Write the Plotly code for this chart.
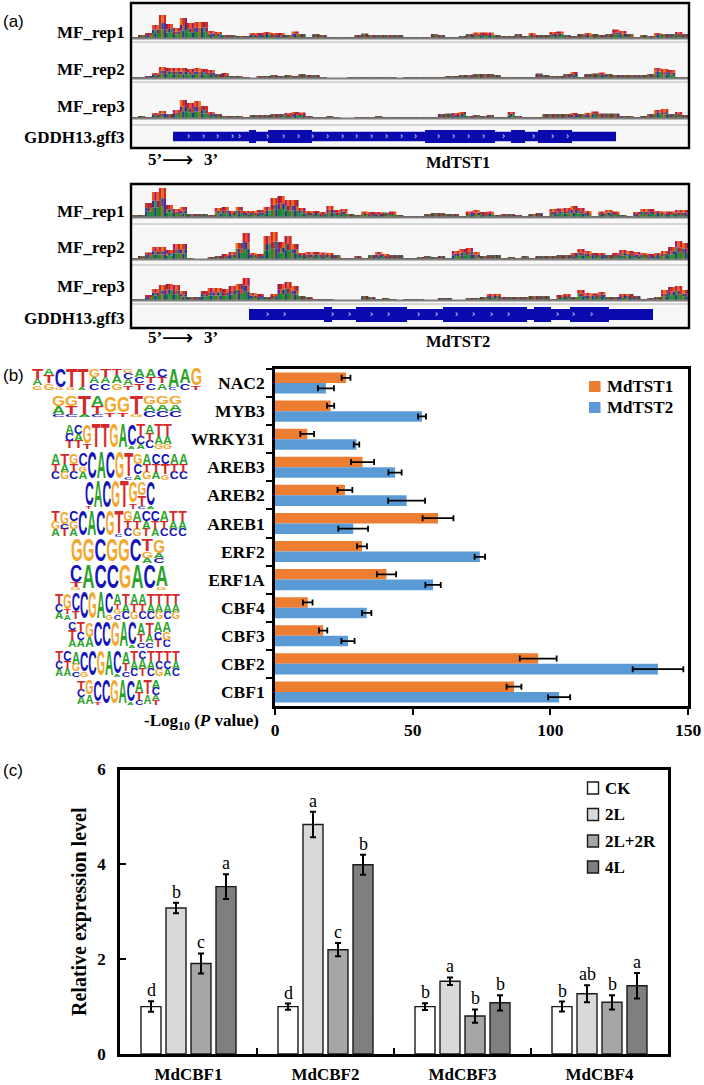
import re
import plotly.graph_objects as go

# ---------- data: panel (a) coverage, 80 bins per track ----------
T1_REP1 = [1,3,5,13,23,14,10,20,15,16,16,7,6,3,3,2,2,5,5,6,5,5,3,6.5,4,1,3.5,3,1,.5,.5,.5,3,4.5,2.5,3,2.5,2.5,2.5,.5,
           .5,.5,1,4,2.5,.5,.5,1.5,4,5.5,5.5,5.5,3,1.5,1.5,3.5,2,5,3,2.5,6,6.5,3,2,3.5,5,3.5,2.5,4,8.5,7,4,.5,2.5,1.5,5,4,4,6,4]
T1_REP2 = [1,.3,2,5,11,10,10,10,9,10,9,8,4,5,2,1.5,.5,0,1.5,2,2.5,2,2.5,2,3.5,3,2.5,.5,0,0,0,.3,.3,.3,.3,.3,.5,.3,0,.2,
           .2,.2,.3,.2,.2,1.2,2,2.5,2.5,3.5,3.5,3.5,3,.5,.6,.6,.5,.3,4.5,3,1.5,2,4,6,.5,3.5,4.5,5.5,3.5,3,3,2.5,3,2.5,4,10,9,8,.5,1]
T1_REP3 = [.3,2,.5,5,7,4,8,18,15,17,12,6,4,1.5,2,2,1,2.5,3,3,3.5,3.5,5,6,5.5,2,.3,.3,1.5,1,0,0,.3,.8,.3,2,1,.5,.3,.3,
           .3,.3,.3,.3,3.5,4.5,5,6,1.5,3,2,3,1,1,6,1.5,.3,.5,.5,3.5,3.5,4,3.5,5,4,5,6.5,4.5,4.5,4.5,2,2,.3,2,4,8,9,4,6,3]
T2_REP1 = [1.5,2,14,25,29,12,8,10,3,3,2.5,2,9,10,6,10,6,6,7,10,19,21,17,17,9,6,6,5,11,7,8,3,2,5.5,5,5,4.5,5.5,2,1,
           .8,.5,2.5,4,3.5,3,3,.5,5.5,7,5,5.5,2,2.5,2.5,2,.5,3,4,1,8,8.5,9,11,9,6,1,5.5,7,5.5,2,1,5,8,8,6,5.5,5.5,7,7]
T2_REP2 = [1,2.5,6.5,12,12,9,15,15,1,0,0,2,3,5,7,16,26,6,5,23,27,17,23,15,6,7,7,6.5,6,4,1,.3,3,.5,4,7,5,4,4,1,
           .3,2,3,2,3,1,8,10,11,7,3,4,4,.3,1.5,.3,3,.5,3,3,3,3.5,3.5,6,10,8,6,6,4,6,9,8,7,6,5,6,8,12,18,16]
T2_REP3 = [.3,1,5,11,15,16,15,9,3,2.5,9,12,12,11,14,16,22,7,6,3,6,16,18,14,3.5,3,1,1,.5,0,0,0,0,3.5,3,.5,2,.3,0,1,
           1,.5,0,0,2,2,0,0,2,2,2.5,6,6,3,3,3,3,3.5,3.5,3.5,.5,5,6,3,10,7,6.5,8,3,3,6,6,3.5,1,1.5,3,10,13,14,10]
TRACK_NAMES = ["MF_rep1", "MF_rep2", "MF_rep3"]
GENE_TRACK = "GDDH13.gff3"
GENE_NAMES = ["MdTST1", "MdTST2"]

GENE1_SPAN = [42, 485]
GENE1_EXONS = [(118,125),(137,181),(294,364),(380,394),(407,441)]
GENE1_MARKS = [57,72,86,101,108,136,152,167,181,196,211,225,240,255,270,284,307,322,337,352,372,402,421,436]
GENE2_SPAN = [118, 522]
GENE2_EXONS = [(193,201),(225,276),(312,396),(403,420),(439,478)]
GENE2_MARKS = [136,153,201,218,240,257,287,305,325,342,360,377,426,442,460]

# ---------- data: panel (b) ----------
TF_NAMES = ["NAC2","MYB3","WRKY31","AREB3","AREB2","AREB1","ERF2","ERF1A","CBF4","CBF3","CBF2","CBF1"]
MDTST1 = [25.8,20.2,11.7,31.8,25.4,59.2,31.6,40.5,11.9,17.5,95.6,86.8]
MDTST1_ERR = [1.6,1.3,2.5,4.2,2.7,5.6,1.8,3.5,1.75,1.5,6.7,2.7]
MDTST2 = [18.5,53.4,29.6,43.6,47.8,28.4,74.4,57.4,33.3,26.5,139.1,103.2]
MDTST2_ERR = [2.9,1.45,1.0,2.4,6.7,5.4,1.9,2.8,1.7,2.4,9.2,4.0]
B_TICKS = [0,50,100,150]

# sequence logos: one string per column, top to bottom, letter + tenths of logo height
LOGOS = [
 ["T5A3G2","A3T4G3","C9G1","T9G1","T9A1","G4A3C3","T4A3C3","T3A4G3","G2C3A3T2","A4C3T3","A4T3C3","C4T3A3","A9C1","A7C3","G8T2"],
 ["G5A4C1","G5T4C1","T9A1","A5T4C1","G8T2","G8T2","T9G1","G4A3C3","G4A3C3","G4A3C3"],
 ["A4C3T3","C4A3T3","G8T2","T10","T10","G10","A10","C9A1","T5C3A2","A4T3C3","T5A3G2","T5A3G2"],
 ["A4T3C3","T4A3G3","G4T3C3","C5G2A3","C10","A10","C10","G10","T9C1","G4C4A2","A4T3G3","C4T3A3","C4T4G2","A4T3C3","A4T3C3"],
 ["C9T1","A10","C10","G10","T10","G8T2","G5T4C1","C9A1"],
 ["T4G3A3","G5C2T3","C4G3A3","C10","A10","C10","G10","T9C1","G4T3C3","A4T3G3","C4A3T3","C4T3A3","A4T3C3","T4A3C3","T4A3C3"],
 ["G10","G10","C10","G10","G10","C10","T5G3A2","G6A2C2"],
 ["C7T2G1","A10","C10","C10","G10","A10","C10","A9G1"],
 ["T4C3A3","G6T2A2","C7T3","C10","G10","A10","C8G2","A4T2G2C2","T4A3C3","A4T3G3","A4T3C3","T4A3C3","T4A3G3","T4A3C3","T4A3G3"],
 ["C3T4A3","T4C3A3","G6A4","C10","C10","G10","A10","C9A1","A5T3C2","T5A3C2","A4C3T3","A4G3C3"],
 ["T4C3A3","C4T3A3","A5G3C2","C8G2","C10","G10","A10","C9A1","A5T3C2","T4A3C3","C3A4T3","T4A3C3","T4C3G3","T4C3A3","T4A3C3"],
 ["T4C3A3","G6A4","C9T1","C10","G10","A10","C9A1","A5T3C2","T6A4","A3C3A2T2"],
]

# ---------- data: panel (c) ----------
CBF_GENES = ["MdCBF1","MdCBF2","MdCBF3","MdCBF4"]
TREATMENTS = ["CK","2L","2L+2R","4L"]
EXPR = [[1,1,1,1],[3.08,4.84,1.535,1.27],[1.91,2.2,.80,1.09],[3.53,3.99,1.08,1.44]]
EXPR_ERR = [[.11,.065,.07,.105],[.11,.27,.08,.18],[.21,.14,.14,.15],[.26,.21,.16,.27]]
EXPR_SIG = [["d","d","b","b"],["b","a","a","ab"],["c","c","b","b"],["a","b","b","a"]]
C_TICKS = [0,2,4,6]

# ---------- style and layout constants ----------
W, H = 704, 1085
SERIF = "Liberation Serif"
def px(x): return x / W
def py(y): return 1 - y / H
def xdom(a, b): return [px(a), px(b)]
def ydom(top, bottom): return [py(bottom), py(top)]

TOPC = ["#D7191C","#F0501A","#A81A6A","#E8601C","#CC2233","#F07018","#D03018","#8A2252"]
MIDC = ["#6A1B9A","#B5651D","#2E3192","#2E8B57","#8A2252","#C0392B","#1F5F8B"]
LOWC = ["#1F8A3B","#2E8B22","#1F3A93","#228B22","#3C7A2E","#7A7A20","#27408B","#1B7F3A"]
DARKC = ["#8B4A2B","#4A4A6A","#6B6B2B","#7A2E3A","#2F6B4A","#A8552B","#5A3A6A"]
LOGO_COL = {"A":"#2BA32B","C":"#1414B8","G":"#F2A72E","T":"#D42A2A"}
GREYS = ["#FFFFFF","#D9D9D9","#A6A6A6","#7F7F7F"]

fig = go.Figure()
layout = dict(width=W, height=H, margin=dict(l=0,r=0,t=0,b=0,pad=0,autoexpand=False), autosize=False,
              paper_bgcolor="white", plot_bgcolor="rgba(0,0,0,0)", barmode="overlay", showlegend=False,
              font=dict(family=SERIF, color="black"))
shapes, notes = [], []

def note(x, y, text, size=15.5, anchor="right", family=SERIF, bold=True, color="black"):
    notes.append(dict(xref="paper", yref="paper", x=px(x), y=py(y), text=text, showarrow=False,
                      xanchor=anchor, yanchor="middle", borderpad=0,
                      font=dict(family=family, size=size, color=color, weight=700 if bold else 400)))

# ---------- panel (a) ----------
axis_n = [2]
def new_axes(xd, yd, xr, yr, **yopts):
    n = axis_n[0]; axis_n[0] += 1
    layout[f"xaxis{n}"] = dict(domain=xd, range=xr, anchor=f"y{n}", showgrid=False, zeroline=False,
                               showticklabels=False, ticks="", showline=False)
    layout[f"yaxis{n}"] = dict(domain=yd, range=yr, anchor=f"x{n}", showgrid=False, zeroline=False,
                               showticklabels=False, ticks="", showline=False, **yopts)
    return f"x{n}", f"y{n}"

BOX_L, BOX_R = 131, 689
BOXES = [
    dict(top=3, bot=148, tracks=[(T1_REP1,5,38,42,32),(T1_REP2,43,78,82,70),(T1_REP3,84,118,125,106)],
         gene=(130,143,137), span=GENE1_SPAN, exons=GENE1_EXONS, marks=GENE1_MARKS, name=0, arrow=159, namey=163),
    dict(top=184, bot=328, tracks=[(T2_REP1,186,217,224,211),(T2_REP2,226,259,265,248),(T2_REP3,267,300,304,286)],
         gene=(307,322,318), span=GENE2_SPAN, exons=GENE2_EXONS, marks=GENE2_MARKS, name=1, arrow=338, namey=341),
]
for box in BOXES:
    shapes.append(dict(type="rect", xref="paper", yref="paper", x0=px(BOX_L), x1=px(BOX_R),
                       y0=py(box["top"]), y1=py(box["bot"]), fillcolor="#F7F7F7", line=dict(width=0), layer="below"))
    for (vals, top, base, sep, laby), name in zip(box["tracks"], TRACK_NAMES):
        xa, ya = new_axes(xdom(BOX_L, BOX_R), ydom(top, base), [-.5, 79.5], [0, base - top])
        xs = list(range(len(vals)))
        low = [v * .38 for v in vals]
        mid = [v * .27 for v in vals]
        upp = [v * .35 for v in vals]
        low_base = [0] * len(vals)
        mid_base = low
        upp_base = [a + b for a, b in zip(low, mid)]
        for part, bs, pal in ((low, low_base, LOWC), (mid, mid_base, MIDC), (upp, upp_base, TOPC)):
            for k, off in enumerate((-.5, -1/6, 1/6)):
                cols = [(DARKC if vals[i] < 5 else pal)[(3 * i + k) % len(pal if vals[i] >= 5 else DARKC)] for i in xs]
                fig.add_trace(go.Bar(x=xs, y=part, base=bs, width=.36, offset=off, xaxis=xa, yaxis=ya,
                                     marker=dict(color=cols, line=dict(width=0)),
                                     showlegend=False, hoverinfo="skip"))
        shapes.append(dict(type="line", xref="paper", yref="paper", x0=px(BOX_L), x1=px(BOX_R),
                           y0=py(base+.5), y1=py(base+.5), line=dict(color="#808080", width=1.8)))
        shapes.append(dict(type="line", xref="paper", yref="paper", x0=px(BOX_L), x1=px(BOX_R),
                           y0=py(sep), y1=py(sep), line=dict(color="#B8B8B8", width=1.2)))
        note(126, laby, name, size=17)
    gtop, gbot, glab = box["gene"]
    xa, ya = new_axes(xdom(BOX_L, BOX_R), ydom(gtop, gbot), [0, BOX_R - BOX_L], [-.5, .5])
    blue = "#0A0AAE"
    sp0, sp1 = box["span"]
    fig.add_trace(go.Bar(x=[sp1 - sp0], y=[0], base=[sp0], orientation="h", width=.72, offset=-.36,
                         xaxis=xa, yaxis=ya, marker=dict(color=blue, line=dict(width=0)),
                         showlegend=False, hoverinfo="skip"))
    fig.add_trace(go.Bar(x=[b - a for a, b in box["exons"]], y=[0]*len(box["exons"]), base=[a for a, b in box["exons"]],
                         orientation="h", width=1, offset=-.5, xaxis=xa, yaxis=ya,
                         marker=dict(color=blue, line=dict(width=0)), showlegend=False, hoverinfo="skip"))
    for m in box["marks"]:
        notes.append(dict(xref=xa, yref=ya, x=m, y=0, text="›", showarrow=False, yshift=1,
                          font=dict(family="Liberation Sans", size=9, color="white")))
    note(126, glab, GENE_TRACK, size=17)
    shapes.append(dict(type="rect", xref="paper", yref="paper", x0=px(BOX_L), x1=px(BOX_R),
                       y0=py(box["top"]), y1=py(box["bot"]), line=dict(color="black", width=2.4)))
    note(147, box["arrow"], "5’", size=17, anchor="left")
    note(203, box["arrow"], "3’", size=17, anchor="left")
    note(178, box["arrow"], "⟶", size=22, anchor="center", family="DejaVu Sans", bold=False)
    note(458, box["namey"], GENE_NAMES[box["name"]], size=16.5, anchor="center")

# ---------- panel (b) logos ----------
LOGO_BOX = [(32,202,369,390),(52,182,397,417),(65,172,425,449),(51,188,454,480),(85,155,482,509),(51,187,512,537),
            (71,165,540,563),(70,168,566,590),(55,180,594,620),(68,171,623,648),(55,180,652,677),(77,160,681,705)]
lx, ly, lt, ls, lc, lw = [], [], [], [], [], []
for cols, (x0, x1, yt, yb) in zip(LOGOS, LOGO_BOX):
    cw = (x1 - x0) / len(cols)
    for i, col in enumerate(cols):
        y = yb
        for letter, w in reversed(re.findall(r"([ACGT])(\d+)", col)):
            h = (yb - yt) * int(w) / 10
            fs = max(h / .72, 2)
            lx.append(x0 + cw * (i + .5)); ly.append(y - h / 2 + .06 * fs); lt.append(letter)
            ls.append(fs); lc.append(LOGO_COL[letter]); lw.append(cw)
            y -= h
xa, ya = new_axes([0, 1], [0, 1], [0, W], [H, 0])
fig.add_trace(go.Scatter(x=lx, y=ly, text=lt, mode="text", textposition="middle center", name="logo",
                         xaxis=xa, yaxis=ya, customdata=lw, cliponaxis=False,
                         textfont=dict(family="Liberation Sans", size=ls, color=lc, weight=700),
                         showlegend=False, hoverinfo="skip"))

# ---------- panel (b) bars ----------
LB = dict(showline=True, linecolor="black", linewidth=2.6, mirror=True, showgrid=False, zeroline=False)
fnt = dict(family=SERIF, size=17.5, color="black", weight=700)
layout["xaxis"] = dict(domain=xdom(275, 688), range=[0, 150], anchor="y", tickvals=B_TICKS, ticks="outside",
                       ticklen=6, tickwidth=2.2, tickcolor="black", tickfont=fnt, **LB)
layout["yaxis"] = dict(domain=ydom(369, 706), anchor="x", type="category", categoryorder="array",
                       categoryarray=TF_NAMES[::-1], range=[-.5, 11.5], tickson="boundaries", ticks="outside",
                       ticklen=6, tickwidth=2.2, tickcolor="black", tickfont=fnt, ticklabelstandoff=4, **LB)
LEG_B = {"MdTST1": 386.5, "MdTST2": 407.5}
for name, vals, errs, col, off in (("MdTST1", MDTST1, MDTST1_ERR, "#ED7D31", 0.0),
                                   ("MdTST2", MDTST2, MDTST2_ERR, "#5B9BD5", -.375)):
    fig.add_trace(go.Bar(y=TF_NAMES, x=vals, orientation="h", name=name, width=.375, offset=off,
                         marker=dict(color=col, line=dict(width=0)), xaxis="x", yaxis="y",
                         error_x=dict(type="data", array=errs, visible=True, color="black", thickness=1.8, width=3)))
    yy = LEG_B[name]
    shapes.append(dict(type="rect", xref="paper", yref="paper", x0=px(589), x1=px(600.5), y0=py(yy+5.5), y1=py(yy-5.5),
                       fillcolor=col, line=dict(width=0)))
    note(606, yy, name, size=17, anchor="left")
note(260, 722, "-Log<sub>10</sub> (<i>P</i> value)", size=17)

# ---------- panel (c) ----------
xa, ya = "x20", "y20"
fnt_c = dict(family=SERIF, size=17, color="black", weight=700)
layout["xaxis20"] = dict(domain=xdom(120, 668), anchor="y20", type="category", categoryorder="array",
                         categoryarray=CBF_GENES, range=[-.5, 3.5], tickson="boundaries", ticks="inside",
                         ticklen=6, tickwidth=2.4, tickcolor="black", tickfont=fnt_c, ticklabelstandoff=3, **LB)
layout["yaxis20"] = dict(domain=ydom(769.5, 1054), anchor="x20", range=[0, 6], tickvals=C_TICKS, ticks="inside",
                         ticklen=6, tickwidth=2.4, tickcolor="black", tickfont=fnt_c, ticklabelstandoff=8,
                         title=dict(text="Relative expression level", standoff=6,
                                    font=dict(family=SERIF, size=20, weight=700)), **LB)
BAR_W, PITCH = 20 / 137, 25 / 137
LEG_C = [788, 814.5, 841, 867]
for j, (name, vals, errs, col, sigs) in enumerate(zip(TREATMENTS, EXPR, EXPR_ERR, GREYS, EXPR_SIG)):
    fig.add_trace(go.Bar(x=CBF_GENES, y=vals, name=name, width=BAR_W, offset=(j - 2) * PITCH + (PITCH - BAR_W) / 2,
                         marker=dict(color=col, line=dict(color="#1A1A1A", width=1.4)), xaxis=xa, yaxis=ya,
                         error_y=dict(type="data", array=errs, visible=True, color="black", thickness=2, width=3)))
    for gene, v, e, s in zip(CBF_GENES, vals, errs, sigs):
        notes.append(dict(xref=xa, yref=ya, x=gene, y=v + e, text=s, showarrow=False, yanchor="bottom",
                          xshift=(j - 1.5) * 25, yshift=-1, font=dict(family=SERIF, size=18, color="black")))
    yy = LEG_C[j]
    shapes.append(dict(type="rect", xref="paper", yref="paper", x0=px(587.5), x1=px(598.5), y0=py(yy+6), y1=py(yy-6),
                       fillcolor=col, line=dict(color="#1A1A1A", width=1.4)))
    note(604, yy, name, size=17, anchor="left")

# panel letters
note(2, 22, "(a)", size=17, anchor="left", family="Liberation Sans", bold=False)
note(2, 376, "(b)", size=17, anchor="left", family="Liberation Sans", bold=False)
note(2, 770, "(c)", size=17, anchor="left", family="Liberation Sans", bold=False)

layout["shapes"] = shapes
layout["annotations"] = notes
fig.update_layout(**layout)

POST = """
document.body.style.margin='0';
document.documentElement.style.overflow='hidden';
var gd=document.getElementById('{plot_id}');
var tr=gd.data.filter(function(t){return t.name==='logo';})[0];
var nodes=gd.querySelectorAll('g.textpoint text');
nodes.forEach(function(t,i){
  var b=t.getBBox(); var cx=b.x+b.width/2; var s=tr.customdata[i]/b.width;
  t.setAttribute('transform','translate('+cx+',0) scale('+s+',1) translate('+(-cx)+',0)');
});
"""
fig.write_html("out.html", post_script=POST, config=dict(displayModeBar=False))
